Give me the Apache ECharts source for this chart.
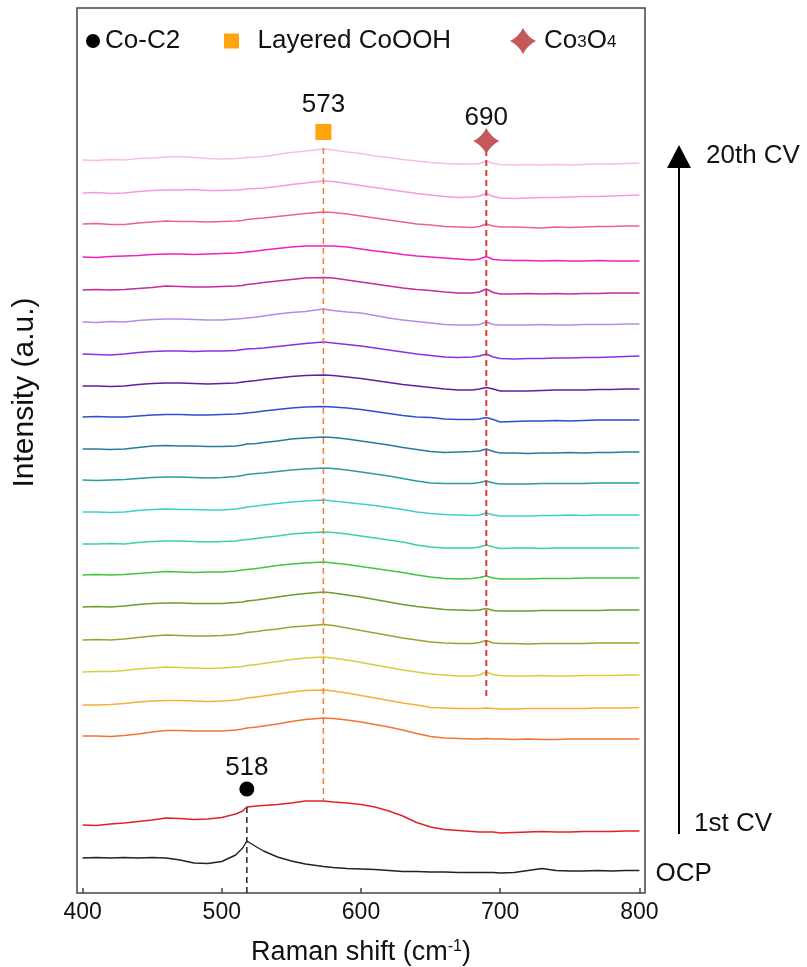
<!DOCTYPE html>
<html>
<head>
<meta charset="utf-8">
<script src="https://cdn.jsdelivr.net/npm/echarts@6.0.0/dist/echarts.min.js"></script>
<style>
  html, body { margin: 0; padding: 0; background: #fff; }
  #main { width: 807px; height: 967px; }
</style>
</head>
<body>
<div id="main"></div>
<script>
// Raman shift (cm-1)
var shift = [400,410,420,430,440,450,460,470,480,490,500,510,515,518,525,530,540,550,560,573,580,590,600,610,620,630,640,650,660,670,680,685,690,695,700,710,720,730,740,750,760,770,780,790,800];

// spectra, relative to their own start (stacked with curveBase)
var cv20 = [0,-0.5,0.5,0,1.5,2,3,3.5,2.5,1.5,1,1.5,2,2.5,3,3.5,5.5,7.5,9,11,10,8,6.5,4,2.5,0.5,-1,-2.5,-3.5,-4,-4,-3.5,-1,-3.5,-4.5,-5,-4.5,-5,-4.5,-5,-4.5,-4,-4,-3.5,-3];
var cv19 = [0,0.5,-0.5,0,1.5,2.5,3,3,3.5,2.5,2.5,3,3.5,4,4.5,5,6.5,8.5,10,12,11.5,9.5,7.5,5.5,3.5,1.5,-0.5,-2,-3.5,-4.5,-4,-3,-0.5,-3.5,-5,-5.5,-5,-4.5,-4.5,-4,-3.5,-3.5,-3,-2.5,-2];
var cv18 = [0,0.5,-0.5,-0.5,1,2,3,2.5,2.5,2,2.5,3,3.5,4.5,5.5,6,7.5,9,10.5,12,11.5,10,8,6,4,2,0,-1,-2.5,-3,-3.5,-2.5,0,-2,-3,-3,-3.5,-4,-3,-3.5,-3,-2.5,-2.5,-2,-2];
var cv17 = [0,-0.5,0.5,1,1.5,2.5,3,3,2.5,3,3.5,4,4.5,5,6,7,8.5,10,11,11,11,10,8,6,4.5,2.5,1,0,-1,-2,-3,-2,0.5,-2.5,-3,-3.5,-3.5,-4,-3.5,-4,-4,-3.5,-4,-4,-4];
var cv16 = [0,0.5,0,0.5,1.5,2.5,4,3.5,3,3,3.5,4,4.5,5.5,6.5,7.5,9,10.5,12,12.5,12,10,8,6,4,2,0.5,-0.5,-2,-3,-3,-2,1,-2.5,-4,-4,-3.5,-4,-3.5,-4,-3.5,-3.5,-3,-3,-3];
var cv15 = [0,-0.5,0.5,0,1.5,2.5,3,3,2.5,2,2,3,3.5,4,5,6,8,9.5,10.5,13,11.5,10,9,6.5,4,2,0.5,-1,-2.5,-3,-3,-2.5,0,-2.5,-3,-3,-3,-2.5,-3,-3,-2.5,-2.5,-2.5,-2,-2];
var cv14 = [0,-0.5,-1,0,1.5,2.5,3,3,2.5,3,3,3.5,4.5,5,5.5,6,7.5,9,10.5,12,11,9.5,8,6,4,2,0,-1.5,-3,-3.5,-3,-2,0,-3,-4.5,-5,-4.5,-4.5,-4,-4,-3.5,-3.5,-3,-2.5,-2];
var cv13 = [0,0,-0.5,0,1.5,2.5,3,3,2.5,2,2.5,3,4,4.5,5.5,6.5,8,9.5,10.5,11,10.5,9,7.5,5.5,3.5,1.5,0,-1.5,-3,-4,-4,-3,-1.5,-3,-5,-5,-5,-4.5,-4,-4,-4,-3.5,-3.5,-3,-3];
var cv12 = [0,0.5,0,0,1,2,2.5,2.5,2,2,2.5,3,3.5,4,5,6,7.5,9,10,10.5,10,9,7.5,5.5,3.5,1.5,0,-0.5,-2,-2.5,-2.5,-2,-0.5,-2.5,-5,-4.5,-4,-4,-3.5,-4,-3.5,-3,-3,-3,-3];
var cv11 = [0,0,-0.5,0,1.5,3,3.5,3,3,2.5,2.5,3,4,5,5.5,6.5,8,10,11,12,11.5,10,8,6,4,1.5,-0.5,-2.5,-3.5,-3,-2.5,-2,0,-2.5,-4,-4,-4.5,-4,-4,-3.5,-4,-3.5,-3.5,-3,-3];
var cv10 = [0,-0.5,0,0.5,1.5,2.5,3,3,2.5,2,2.5,3.5,4.5,5.5,6.5,7,8.5,10,11,12,11.5,10,8,6,4,1.5,-1,-3,-3.5,-3.5,-3.5,-2.5,-1,-3,-4,-4,-4,-3.5,-3.5,-3.5,-3.5,-3,-3,-3,-3];
var cv9  = [0,0,-0.5,0,1.5,2.5,3,2.5,2.5,2,2,3,4,5,6,7,8.5,10,11,12,11,9.5,8,6.5,4.5,2.5,0,-1.5,-2.5,-3,-3.5,-3,-1,-3,-4,-4,-4,-3.5,-3.5,-3,-3.5,-3,-3,-3,-3];
var cv8  = [0,0,0.5,0,1.5,2.5,3,3,2.5,2,2.5,3,4,4.5,5.5,6.5,8,10,11,12,11.5,10,8,6,4,2,-1,-3,-4,-4,-4,-3,-1,-3,-4.5,-4,-4,-4.5,-4,-4,-4,-4,-4,-4,-4];
var cv7  = [0,0.5,0,0.5,1.5,2.5,3.5,3,2.5,3,3,4,5,5.5,6.5,7.5,9.5,11,12,13,12,10.5,8.5,6.5,4.5,2.5,0,-2,-3.5,-4,-3.5,-2.5,-1,-3,-4,-4,-4,-3.5,-3.5,-3.5,-3,-3,-3,-3,-3];
var cv6  = [0,0.5,0,1,2.5,3.5,4,4,3.5,3.5,3.5,4.5,5,6,7,8,10,12,13.5,15,14,12,10,7.5,5,2.5,0.5,-1,-2.5,-3,-3.5,-3,-1.5,-3.5,-4,-4,-4,-3.5,-3.5,-3.5,-3.5,-3.5,-3,-3,-3];
var cv5  = [0,0.5,0,1,2.5,4,5,4.5,4,4,4.5,5.5,6.5,7.5,8.5,9.5,11,13,14,15.5,14.5,12,9.5,7,4.5,2,0,-2,-3,-3.5,-3.5,-2.5,-0.5,-3,-3.5,-3.5,-4,-3.5,-3.5,-3.5,-3.5,-3,-3,-3,-3];
var cv4  = [0,0.5,0.5,1.5,3,4,5,4.5,4,3.5,4,5,5.5,6.5,7.5,8.5,10.5,12.5,14,15,14,12,9.5,7,4.5,2,0,-2,-3,-4,-4,-3,0,-2.5,-3.5,-4,-4,-3.5,-4,-4,-3.5,-3.5,-3.5,-3,-3];
var cv3  = [0,0,0.5,1.5,3,4,4.5,4.5,4,3.5,4,5,6,7,8,9,11,13,14.5,15,14,12,9.5,7,4.5,2,0,-2.5,-3,-3.5,-3.5,-3.5,-3,-3.5,-4,-4,-3.5,-3.5,-3.5,-3.5,-3.5,-3,-3,-3,-2.5];
var cv2  = [0,0,-0.5,0.5,2,4,5.5,5.5,5,5,5,6,7,8,9,10,12,14.5,16.5,18,17.5,16,14,11.5,9,6,2.5,-0.5,-2,-2.5,-3,-3,-2.5,-3,-3,-3.5,-3,-3.5,-3.5,-3,-3,-3,-3,-3,-3];
var cv1  = [0,-0.5,1,2,3.5,5,7,6.5,5.5,6,7.5,11,14,18,19,19.5,20.5,22,24,24,23,22,20.5,18,14,9,2.5,-2,-4.5,-5.5,-6.5,-7,-7,-7,-8,-7.5,-7,-6.5,-7,-7,-6.5,-6.5,-6.5,-6,-6];
var ocp  = [0,0.5,0,0.5,0,0.5,0,-2,-5,-5.5,-3.5,3,10,17,11,7,1,-3,-6,-8.5,-9.5,-10.5,-11,-11.5,-12.5,-13.5,-13.5,-14,-14,-14.5,-14.5,-14.5,-14.5,-14.5,-15,-14.5,-12.5,-10.5,-12.5,-13,-13,-12.5,-13,-12.5,-12.5];

var curveNames  = ['20th CV','19th CV','18th CV','17th CV','16th CV','15th CV','14th CV','13th CV','12th CV','11th CV','10th CV','9th CV','8th CV','7th CV','6th CV','5th CV','4th CV','3rd CV','2nd CV','1st CV','OCP'];
var curveSpectra = [cv20,cv19,cv18,cv17,cv16,cv15,cv14,cv13,cv12,cv11,cv10,cv9,cv8,cv7,cv6,cv5,cv4,cv3,cv2,cv1,ocp];
var curveBase   = [733,700,669,636,603,571,539,507,476,444,413,381,349,318,286,253,221,188,157,68,35];
var curveColors = ['#f7bde9','#f29be0','#ef5f94','#f020c0','#c52aa0','#b48ce8','#8d2ee6','#5e1f9e','#2c4fd0','#2a7aa0',
                   '#2a9c9c','#3ccfd0','#3cd49a','#3cc83c','#6e9b2c','#a3a032','#d3d040','#f7b035','#f27432','#e62020','#222222'];

// peak markers
var peakNames  = ['Co-C2','Layered CoOOH','Co3O4'];
var peakShift  = [518, 573, 690];
var peakMarkY  = [104, 761, 752];
var peakLineTop = [86, 745, 743];
var peakLineBottom = [0, 93, 193];
var peakColors = ['#000000','#ffa30f','#c4585a'];
var peakLineColors = ['#333333','#f0803e','#dd3b3b'];

var xTicks = [400,500,600,700,800];

var FONT = 'Liberation Sans, Arial, Helvetica, sans-serif';
var starPath = 'path://M0,-10 Q3.3,-3.3 10,0 Q3.3,3.3 0,10 Q-3.3,3.3 -10,0 Q-3.3,-3.3 0,-10Z';
var squarePath = 'path://M0,0L10,0L10,10L0,10Z';
var peakSymbols = ['circle', squarePath, starPath];
var peakSizes = [15, 16, 26];
var peakLabelGap = [1, 6, -3];

var myChart = echarts.init(document.getElementById('main'), null, {renderer: 'canvas'});

var series = [];
curveSpectra.forEach(function(arr, i) {
	var pts = [];
	for (var k = 0; k < shift.length; k++) {
		pts.push([shift[k], curveBase[i] + arr[k]]);
	}
	var s = {
		name: curveNames[i],
		type: 'line',
		data: pts,
		showSymbol: false,
		silent: true,
		lineStyle: {color: curveColors[i], width: 1.4},
		itemStyle: {color: curveColors[i]},
		z: 2
	};
	if (curveNames[i] === 'OCP') {
		s.endLabel = {
			show: true,
			formatter: 'OCP',
			distance: 16,
			color: '#111',
			fontSize: 26,
			fontFamily: FONT,
			offset: [0, 3]
		};
	}
	series.push(s);
});

// dashed guide lines
peakShift.forEach(function(x, i) {
	series.push({
		type: 'line',
		data: [[x, peakLineTop[i]], [x, peakLineBottom[i]]],
		showSymbol: false,
		silent: true,
		lineStyle: {color: peakLineColors[i], width: i === 2 ? 2 : 1.6, type: [6, 4]},
		z: 3
	});
});

// peak symbols with labels
peakShift.forEach(function(x, i) {
	series.push({
		name: peakNames[i],
		type: 'scatter',
		data: [[x, peakMarkY[i]]],
		symbol: peakSymbols[i],
		symbolSize: peakSizes[i],
		itemStyle: {color: peakColors[i], opacity: 1},
		label: {
			show: true,
			position: 'top',
			distance: peakLabelGap[i],
			formatter: String(x),
			color: '#111',
			fontSize: 26,
			fontFamily: FONT
		},
		z: 5
	});
});

var legendText = {
	fontSize: 26,
	color: '#111',
	fontFamily: FONT,
	rich: {
		s: {fontSize: 17, color: '#111', fontFamily: FONT, verticalAlign: 'bottom', padding: [0, 0, 3, 0]}
	}
};

var option = {
	animation: false,
	backgroundColor: '#fff',
	textStyle: {fontFamily: FONT},
	grid: {
		left: 77, right: 162, top: 8, bottom: 74,
		outerBoundsMode: 'none',
		show: true,
		borderColor: '#444',
		borderWidth: 1.5
	},
	legend: [
		{data: [{name: 'Co-C2', icon: 'circle'}], left: 86, top: 28, itemWidth: 14, itemHeight: 14, padding: 0, textStyle: legendText, selectedMode: false},
		{data: [{name: 'Layered CoOOH', icon: squarePath}], left: 224, top: 28, itemWidth: 42, itemHeight: 15, padding: 0, textStyle: legendText, selectedMode: false},
		{data: [{name: 'Co3O4', icon: starPath}], left: 510, top: 28, itemWidth: 32, itemHeight: 26, padding: 0, textStyle: legendText, selectedMode: false,
		 formatter: function() { return 'Co{s|3}O{s|4}'; }}
	],
	xAxis: {
		type: 'value',
		min: 396,
		max: 804,
		name: 'Raman shift (cm{sup|-1})',
		nameLocation: 'middle',
		nameGap: 46,
		nameTextStyle: {
			fontSize: 27, color: '#111', fontFamily: FONT,
			rich: {sup: {fontSize: 16, color: '#111', fontFamily: FONT, verticalAlign: 'top', padding: [0, 0, 10, 0]}}
		},
		axisLine: {show: false},
		axisTick: {show: true, inside: true, length: 5, customValues: xTicks, lineStyle: {color: '#444', width: 1.5}},
		axisLabel: {customValues: xTicks, fontSize: 23, color: '#111', fontFamily: FONT, margin: 8},
		splitLine: {show: false}
	},
	yAxis: {
		type: 'value',
		min: 0,
		max: 885,
		name: 'Intensity (a.u.)',
		nameLocation: 'middle',
		nameGap: 37,
		nameTextStyle: {fontSize: 30, color: '#111', fontFamily: FONT, padding: [0, 0, 0, 116]},
		axisLine: {show: false},
		axisTick: {show: false},
		axisLabel: {show: false},
		splitLine: {show: false}
	},
	graphic: [
		{type: 'line', shape: {x1: 679, y1: 834, x2: 679, y2: 165}, style: {stroke: '#000', lineWidth: 2}},
		{type: 'polygon', shape: {points: [[667, 168], [691, 168], [679, 145]]}, style: {fill: '#000'}},
		{type: 'text', left: 706, top: 143, style: {text: '20th CV', fontSize: 26, fill: '#111', fontFamily: FONT}},
		{type: 'text', left: 694, top: 811, style: {text: '1st CV', fontSize: 26, fill: '#111', fontFamily: FONT}}
	],
	series: series
};

myChart.setOption(option);
window.addEventListener('resize', function() {
	myChart.resize();
});
</script>
</body>
</html>
